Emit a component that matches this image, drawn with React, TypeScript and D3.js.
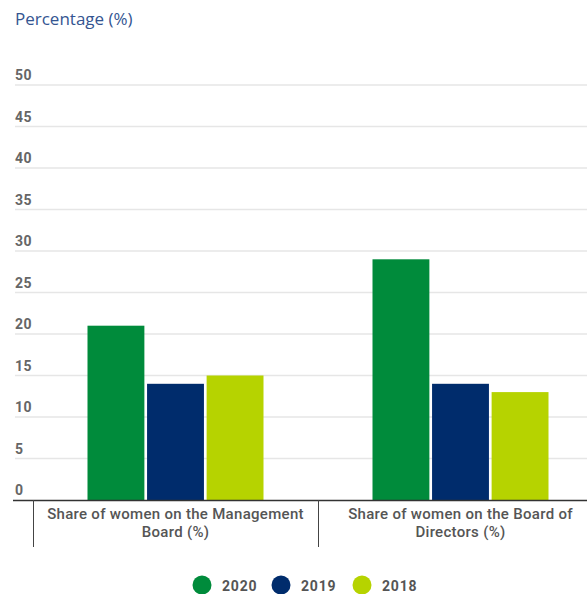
import React from "react";
import * as d3 from "d3";

const categories = ["Share of women on the Management Board (%)", "Share of women on the Board of Directors (%)"];
const categoryLines = [
  ["Share of women on the Management", "Board (%)"],
  ["Share of women on the Board of", "Directors (%)"],
];
const years = ["2020", "2019", "2018"];
const values2020 = [21, 29];
const values2019 = [14, 14];
const values2018 = [15, 13];
const yTicks = [0, 5, 10, 15, 20, 25, 30, 35, 40, 45, 50];
const colors = ["#008b3b", "#002c6c", "#b6d300"];

const W = 587;
const H = 594;

export default function App() {
  const series = [values2020, values2019, values2018];
  const y = d3.scaleLinear().domain([0, 50]).range([500, 85]);
  const x0 = d3.scaleBand<string>().domain(categories).range([33, 603]).paddingInner(0).paddingOuter(0);
  const x1 = d3
    .scaleBand<string>()
    .domain(years)
    .range([0, x0.bandwidth()])
    .paddingInner(0.045)
    .paddingOuter(0.915);

  const legendCx = [202, 281, 362];

  return (
    <svg width={W} height={H} style={{ position: "absolute", left: 0, top: 0, background: "#fff" }}>
      <text x={15} y={25} fontFamily="'Open Sans', sans-serif" fontSize={17} fill="#345591">
        Percentage (%)
      </text>
      {yTicks.map((t) => (
        <g key={t}>
          {t !== 0 && <line x1={15} x2={W} y1={y(t)} y2={y(t)} stroke="#e6e6e6" strokeWidth={1.5} />}
          <text
            x={15}
            y={y(t) - 5}
            fontFamily="Roboto, sans-serif"
            fontWeight="bold"
            fontSize={14}
            letterSpacing={0.4}
            fill="#666"
          >
            {t}
          </text>
        </g>
      ))}
      {categories.map((c, ci) => (
        <g key={c}>
          {years.map((yr, si) => (
            <rect
              key={yr}
              x={(x0(c) as number) + (x1(yr) as number)}
              y={y(series[si][ci])}
              width={x1.bandwidth()}
              height={y(0) - y(series[si][ci])}
              fill={colors[si]}
            />
          ))}
        </g>
      ))}
      <line x1={13} x2={W} y1={y(0) + 0.5} y2={y(0) + 0.5} stroke="#333" strokeWidth={1.5} />
      {categories.map((c, ci) => (
        <g key={"lab" + c}>
          <line
            x1={(x0(c) as number) + 0.5}
            x2={(x0(c) as number) + 0.5}
            y1={y(0)}
            y2={547}
            stroke="#444"
            strokeWidth={1}
          />
          {categoryLines[ci].map((ln, li) => (
            <text
              key={li}
              x={(x0(c) as number) + x0.bandwidth() / 2}
              y={519 + li * 18}
              textAnchor="middle"
              fontFamily="Roboto, sans-serif"
              fontWeight={500}
              fontSize={15}
              letterSpacing={0.3}
              fill="#555"
            >
              {ln}
            </text>
          ))}
        </g>
      ))}
      {years.map((yr, i) => (
        <g key={"leg" + yr}>
          <circle cx={legendCx[i]} cy={585} r={9.5} fill={colors[i]} />
          <text
            x={legendCx[i] + 20}
            y={591}
            fontFamily="Roboto, sans-serif"
            fontWeight="bold"
            fontSize={14}
            letterSpacing={0.8}
            fill="#555"
          >
            {yr}
          </text>
        </g>
      ))}
    </svg>
  );
}
